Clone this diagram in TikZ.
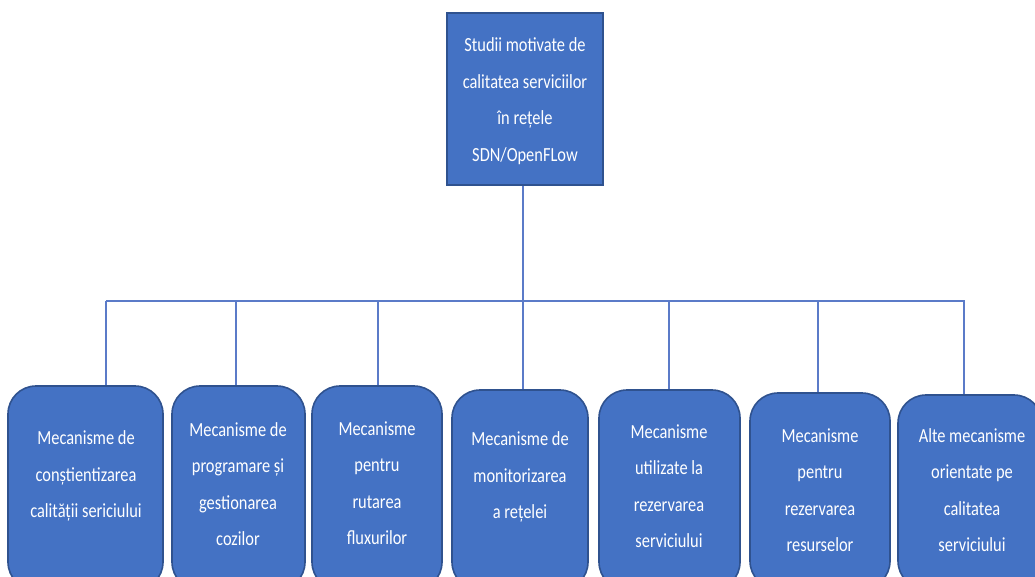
\documentclass[tikz,border=0pt]{standalone}
\usepackage{fontspec}
\setmainfont[FakeStretch=0.82]{Carlito}
\definecolor{boxfill}{HTML}{4472C4}
\definecolor{boxedge}{HTML}{2F528F}
\definecolor{wire}{HTML}{5B7BC8}
\tikzset{
  topbox/.style={draw=boxedge, line width=1.6pt, fill=boxfill, inner sep=0pt},
  catbox/.style={draw=boxedge, line width=1.6pt, fill=boxfill, rounded corners=28pt, inner sep=0pt},
  lbl/.style={text=white, align=center, font=\fontsize{20}{36.5}\selectfont, inner sep=0pt},
  wireline/.style={draw=wire, line width=1.1pt}
}
\begin{document}
\begin{tikzpicture}[x=1pt, y=-1pt]
\useasboundingbox (0,0) rectangle (1035,576);
\clip (0,0) rectangle (1035,576);

% root box
\node[topbox, minimum width=156pt, minimum height=172pt] (root) at (525,99) {};
\node[lbl] (rootlbl) at (525,101) {Studii motivate de\\calitatea serviciilor\\în rețele\\SDN/OpenFLow};

% category boxes (their lower edges run off the page)
\node[catbox, minimum width=155pt, minimum height=204pt] (b1) at (85.5,488) {};
\node[catbox, minimum width=133pt, minimum height=204pt] (b2) at (238.5,488) {};
\node[catbox, minimum width=130pt, minimum height=204pt] (b3) at (377,488) {};
\node[catbox, minimum width=136pt, minimum height=200pt] (b4) at (520,490) {};
\node[catbox, minimum width=141pt, minimum height=200pt] (b5) at (669.5,490) {};
\node[catbox, minimum width=140pt, minimum height=196pt] (b6) at (820,491) {};
\node[catbox, minimum width=144pt, minimum height=194pt] (b7) at (970,492) {};

\node[lbl] (t1) at (86,476) {Mecanisme de\\conștientizarea\\calității sericiului};
\node[lbl] (t2) at (238,484) {Mecanisme de\\programare și\\gestionarea\\cozilor};
\node[lbl] (t3) at (377,483) {Mecanisme\\pentru\\rutarea\\fluxurilor};
\node[lbl] (t4) at (520,477) {Mecanisme de\\monitorizarea\\a rețelei};
\node[lbl] (t5) at (669,486) {Mecanisme\\utilizate la\\rezervarea\\serviciului};
\node[lbl] (t6) at (820,490) {Mecanisme\\pentru\\rezervarea\\resurselor};
\node[lbl] (t7) at (972,490) {Alte mecanisme\\orientate pe\\calitatea\\serviciului};

% bus and drop points
\coordinate (hub) at (523,301);
\coordinate (busL) at (106,301);
\coordinate (busR) at (965,301);
\coordinate (d1) at (106,301);
\coordinate (d2) at (236,301);
\coordinate (d3) at (378,301);
\coordinate (d4) at (523,301);
\coordinate (d5) at (669,301);
\coordinate (d6) at (818,301);
\coordinate (d7) at (964,301);

\draw[wireline] (root.south -| hub) -- (hub);
\draw[wireline] (busL) -- (busR);
\foreach \i in {1,...,7}{
  \draw[wireline] (d\i) -- (d\i |- b\i.north);
}
\end{tikzpicture}
\end{document}
